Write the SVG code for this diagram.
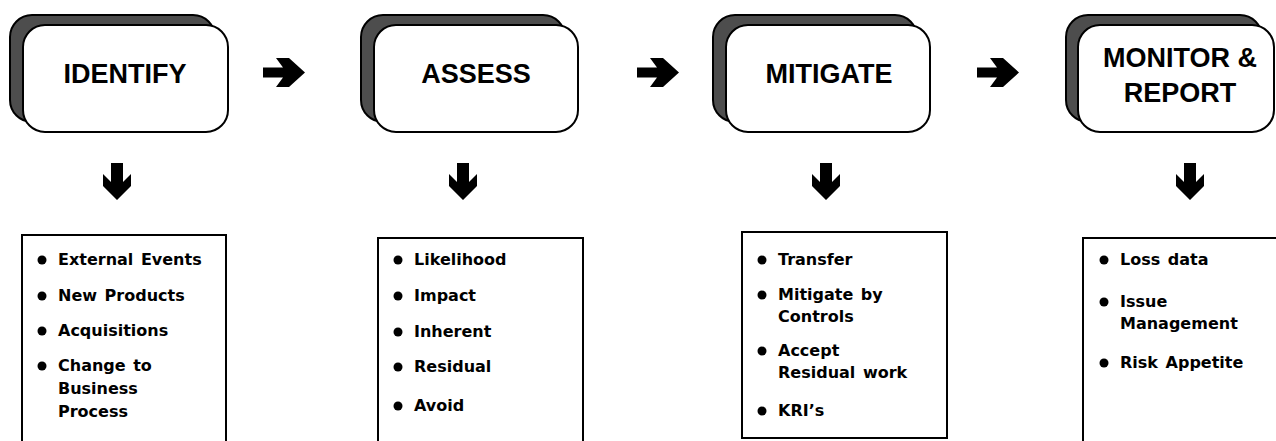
<svg xmlns="http://www.w3.org/2000/svg" width="1276" height="441" viewBox="0 0 1276 441">
<style>
.sh{fill:#4d4d4d;stroke:#000;stroke-width:2}
.fr{fill:#fff;stroke:#000;stroke-width:2}
.hd{font-family:"Liberation Sans",Arial,sans-serif;font-weight:bold;font-size:27px;fill:#000;text-anchor:middle}
.lb{fill:#fff;stroke:#000;stroke-width:2}
.it{font-family:"DejaVu Sans",Verdana,sans-serif;font-weight:bold;font-size:16px;fill:#000;word-spacing:2px}
.ar{fill:#000}
</style>
<defs>
<polygon id="ra" points="0,-5 20,-5 13,-14.5 26,-14.5 42,0 26,14.5 13,14.5 20,5 0,5"/>
<polygon id="da" points="-6,0 6,0 6,19 14,11 14,23 0,37 -14,23 -14,11 -6,19"/>
</defs>
<g id="identify">
<rect class="sh" x="10" y="15" width="205" height="107" rx="22"/>
<rect class="fr" x="23" y="25" width="205" height="107" rx="22"/>
<text class="hd" x="125" y="83">IDENTIFY</text>
</g>
<g id="assess">
<rect class="sh" x="361" y="15" width="204" height="107" rx="22"/>
<rect class="fr" x="374" y="25" width="204" height="107" rx="22"/>
<text class="hd" x="476" y="83">ASSESS</text>
</g>
<g id="mitigate">
<rect class="sh" x="713" y="15" width="204" height="107" rx="22"/>
<rect class="fr" x="726" y="25" width="204" height="107" rx="22"/>
<text class="hd" x="829" y="83">MITIGATE</text>
</g>
<g id="monitor">
<rect class="sh" x="1066" y="15" width="196" height="107" rx="22"/>
<rect class="fr" x="1078" y="25" width="196" height="107" rx="22"/>
<text class="hd" x="1180" y="67">MONITOR &amp;</text>
<text class="hd" x="1180" y="102">REPORT</text>
</g>
<g id="connectors">
<use href="#ra" class="ar" x="263" y="72.5"/>
<use href="#ra" class="ar" x="637" y="72.5"/>
<use href="#ra" class="ar" x="977" y="72.5"/>
<use href="#da" class="ar" x="117" y="163"/>
<use href="#da" class="ar" x="463" y="163"/>
<use href="#da" class="ar" x="826" y="163"/>
<use href="#da" class="ar" x="1190" y="163"/>
</g>
<g id="list-identify">
<rect class="lb" x="22" y="235" width="204" height="220"/>
<circle cx="42" cy="260" r="4.5"/><text class="it" x="58" y="265">External Events</text>
<circle cx="42" cy="296" r="4.5"/><text class="it" x="58" y="301">New Products</text>
<circle cx="42" cy="331" r="4.5"/><text class="it" x="58" y="336">Acquisitions</text>
<circle cx="42" cy="366" r="4.5"/><text class="it" x="58" y="371">Change to</text>
<text class="it" x="58" y="394">Business</text>
<text class="it" x="58" y="417">Process</text>
</g>
<g id="list-assess">
<rect class="lb" x="378" y="238" width="205" height="220"/>
<circle cx="398" cy="260" r="4.5"/><text class="it" x="414" y="265">Likelihood</text>
<circle cx="398" cy="296" r="4.5"/><text class="it" x="414" y="301">Impact</text>
<circle cx="398" cy="332" r="4.5"/><text class="it" x="414" y="337">Inherent</text>
<circle cx="398" cy="367" r="4.5"/><text class="it" x="414" y="372">Residual</text>
<circle cx="398" cy="406" r="4.5"/><text class="it" x="414" y="411">Avoid</text>
</g>
<g id="list-mitigate">
<rect class="lb" x="742" y="232" width="205" height="206"/>
<circle cx="762" cy="260" r="4.5"/><text class="it" x="778" y="265">Transfer</text>
<circle cx="762" cy="295" r="4.5"/><text class="it" x="778" y="300">Mitigate by</text>
<text class="it" x="778" y="322">Controls</text>
<circle cx="762" cy="351" r="4.5"/><text class="it" x="778" y="356">Accept</text>
<text class="it" x="778" y="378">Residual work</text>
<circle cx="762" cy="411" r="4.5"/><text class="it" x="778" y="416">KRI’s</text>
</g>
<g id="list-monitor">
<rect class="lb" x="1083" y="238" width="220" height="220"/>
<circle cx="1104" cy="260" r="4.5"/><text class="it" x="1120" y="265">Loss data</text>
<circle cx="1104" cy="302" r="4.5"/><text class="it" x="1120" y="307">Issue</text>
<text class="it" x="1120" y="329">Management</text>
<circle cx="1104" cy="363" r="4.5"/><text class="it" x="1120" y="368">Risk Appetite</text>
</g>
</svg>
